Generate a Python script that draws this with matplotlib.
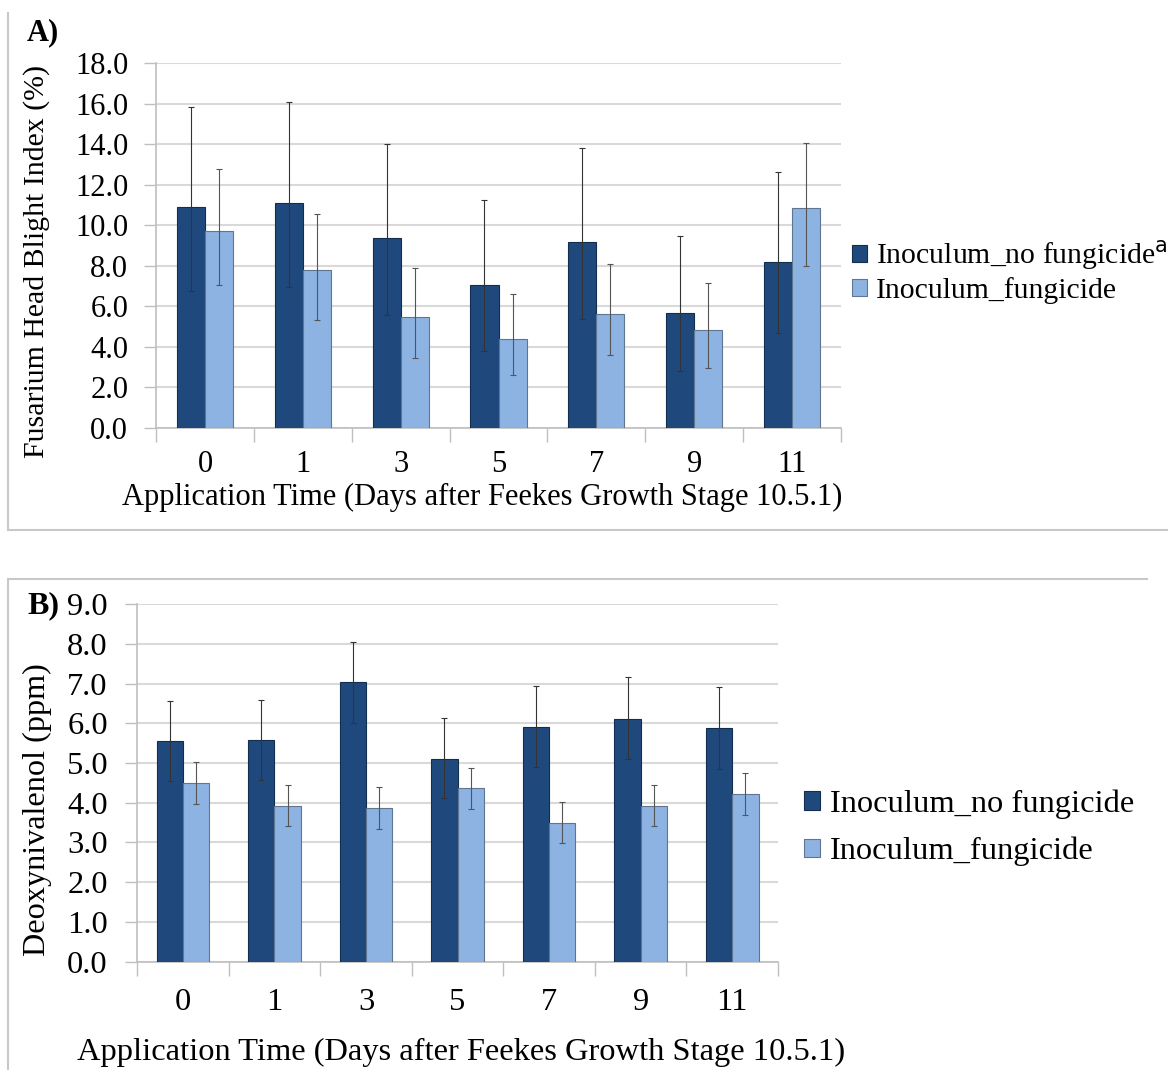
import matplotlib
matplotlib.use("Agg")
import matplotlib.pyplot as plt
import numpy as np
from matplotlib.lines import Line2D

plt.rcParams['font.family'] = ['Liberation Serif', 'DejaVu Serif']
plt.rcParams['mathtext.fontset'] = 'dejavusans'

categories = ["0", "1", "3", "5", "7", "9", "11"]
series_names = ["Inoculum_no fungicide", "Inoculum_fungicide"]

# Panel A: Fusarium Head Blight Index (%)
fhb_nofung = [10.9, 11.08, 9.37, 7.05, 9.16, 5.67, 8.2]
fhb_nofung_lo = [6.78, 6.94, 5.57, 3.82, 5.39, 2.8, 4.67]
fhb_nofung_hi = [15.83, 16.07, 14.0, 11.23, 13.81, 9.49, 12.61]
fhb_fung = [9.71, 7.78, 5.46, 4.41, 5.64, 4.85, 10.86]
fhb_fung_lo = [7.07, 5.34, 3.45, 2.63, 3.6, 2.94, 8.0]
fhb_fung_hi = [12.79, 10.54, 7.89, 6.63, 8.07, 7.14, 14.04]

# Panel B: Deoxynivalenol (ppm)
don_nofung = [5.55, 5.59, 7.04, 5.11, 5.91, 6.11, 5.88]
don_nofung_lo = [4.55, 4.58, 6.01, 4.11, 4.89, 5.10, 4.85]
don_nofung_hi = [6.57, 6.59, 8.05, 6.14, 6.93, 7.16, 6.90]
don_fung = [4.50, 3.93, 3.88, 4.36, 3.49, 3.93, 4.21]
don_fung_lo = [3.98, 3.42, 3.34, 3.83, 2.99, 3.42, 3.69]
don_fung_hi = [5.02, 4.45, 4.40, 4.87, 4.01, 4.45, 4.74]

DARK = "#1f497d"
DARK_EDGE = "#132d4f"
LIGHT = "#8db3e2"
LIGHT_EDGE = "#5f7590"
GRID = "#d9d9d9"
AXIS = "#bfbfbf"
W, H = 1173, 1070

fig = plt.figure(figsize=(11.73, 10.70), dpi=100)


def panel(rect, v1, lo1, hi1, v2, lo2, hi2, ymax, ystep, ylabel, ylabel_xy, xlabel_xy,
          xpad, ypad, fs, yfs):
    ax = fig.add_axes(rect)
    x = np.arange(len(categories))
    w = 0.287
    v1 = np.array(v1); v2 = np.array(v2)
    e1 = [v1 - np.array(lo1), np.array(hi1) - v1]
    e2 = [v2 - np.array(lo2), np.array(hi2) - v2]
    ax.bar(x - w / 2, v1, w, color=DARK, edgecolor=DARK_EDGE, linewidth=0.8, zorder=3)
    ax.bar(x + w / 2, v2, w, color=LIGHT, edgecolor=LIGHT_EDGE, linewidth=0.8, zorder=3)
    ax.errorbar(x - w / 2, v1, yerr=e1, fmt='none', ecolor="#333333", elinewidth=0.8,
                capsize=2.5, capthick=0.8, zorder=4)
    ax.errorbar(x + w / 2, v2, yerr=e2, fmt='none', ecolor="#555555", elinewidth=0.8,
                capsize=2.5, capthick=0.8, zorder=4)
    ax.set_xlim(-0.5, len(categories) - 0.5)
    ax.set_ylim(0, ymax)
    ticks = np.arange(0, ymax + ystep / 2, ystep)
    ax.set_yticks(ticks)
    ax.set_yticklabels([f"{t:.1f}" for t in ticks])
    ax.set_xticks(x)
    ax.set_xticklabels(categories)
    ax.set_xticks(np.arange(-0.5, len(categories), 1.0), minor=True)
    ax.tick_params(axis='x', which='major', length=0, labelsize=fs, pad=xpad)
    ax.tick_params(axis='x', which='minor', length=10, width=1, color=AXIS, direction='out')
    ax.tick_params(axis='y', which='major', length=9, width=1, color=AXIS, labelsize=fs, pad=ypad)
    ax.grid(axis='y', color=GRID, linewidth=1.5, zorder=0)
    ax.set_axisbelow(True)
    for s in ['top', 'right']:
        ax.spines[s].set_visible(False)
    for s in ['left', 'bottom']:
        ax.spines[s].set_color(AXIS)
        ax.spines[s].set_linewidth(1.2)
    fig.text(ylabel_xy[0] / W, 1 - ylabel_xy[1] / H, ylabel, rotation=90,
             ha='center', va='center', fontsize=yfs)
    fig.text(xlabel_xy[0] / W, 1 - xlabel_xy[1] / H,
             "Application Time (Days after Feekes Growth Stage 10.5.1)",
             ha='center', va='center', fontsize=fs)
    return ax


axA = panel([0.133, 0.600, 0.584, 0.3411], fhb_nofung, fhb_nofung_lo, fhb_nofung_hi,
            fhb_fung, fhb_fung_lo, fhb_fung_hi, 18.0, 2.0,
            "Fusarium Head Blight Index (%)", (37, 261), (482, 497), 16, 11, 22, 21.5)
axB = panel([0.1168, 0.1012, 0.5465, 0.3343], don_nofung, don_nofung_lo, don_nofung_hi,
            don_fung, don_fung_lo, don_fung_hi, 9.0, 1.0,
            "Deoxynivalenol (ppm)", (37, 810), (461, 1052), 19, 12, 23.4, 23.2)

# Legends
hA = [plt.Rectangle((0, 0), 1, 1, facecolor=DARK, edgecolor=DARK_EDGE, linewidth=0.8),
      plt.Rectangle((0, 0), 1, 1, facecolor=LIGHT, edgecolor=LIGHT_EDGE, linewidth=0.8)]
fig.legend(hA, [series_names[0] + r"$^{\mathsf{a}}$", series_names[1]],
           loc='center left', bbox_to_anchor=(852 / W, 1 - 271 / H),
           frameon=False, fontsize=21.4, handlelength=0.5, handleheight=0.5,
           handletextpad=0.3, labelspacing=0.18, borderpad=0, borderaxespad=0)
fig.legend(hA, series_names,
           loc='center left', bbox_to_anchor=(804 / W, 1 - 828 / H),
           frameon=False, fontsize=23.4, handlelength=0.5, handleheight=0.5,
           handletextpad=0.3, labelspacing=0.55, borderpad=0, borderaxespad=0)

# Panel labels
fig.text(27 / W, 1 - 33 / H, "A)", fontsize=22, fontweight='bold', ha='left', va='center')
fig.text(27 / W, 1 - 606 / H, "B)", fontsize=23, fontweight='bold', ha='left', va='center')

# Panel frames
fc = "#c8c8c8"
def fl(x0, y0, x1, y1):
    fig.add_artist(Line2D([x0 / W, x1 / W], [1 - y0 / H, 1 - y1 / H], color=fc, linewidth=1.5))
fl(8, 13, 8, 530)
fl(8, 530, 1167, 530)
fl(8, 579, 1147, 579)
fl(8, 579, 8, 1070)

fig.savefig("out.png", dpi=100)
